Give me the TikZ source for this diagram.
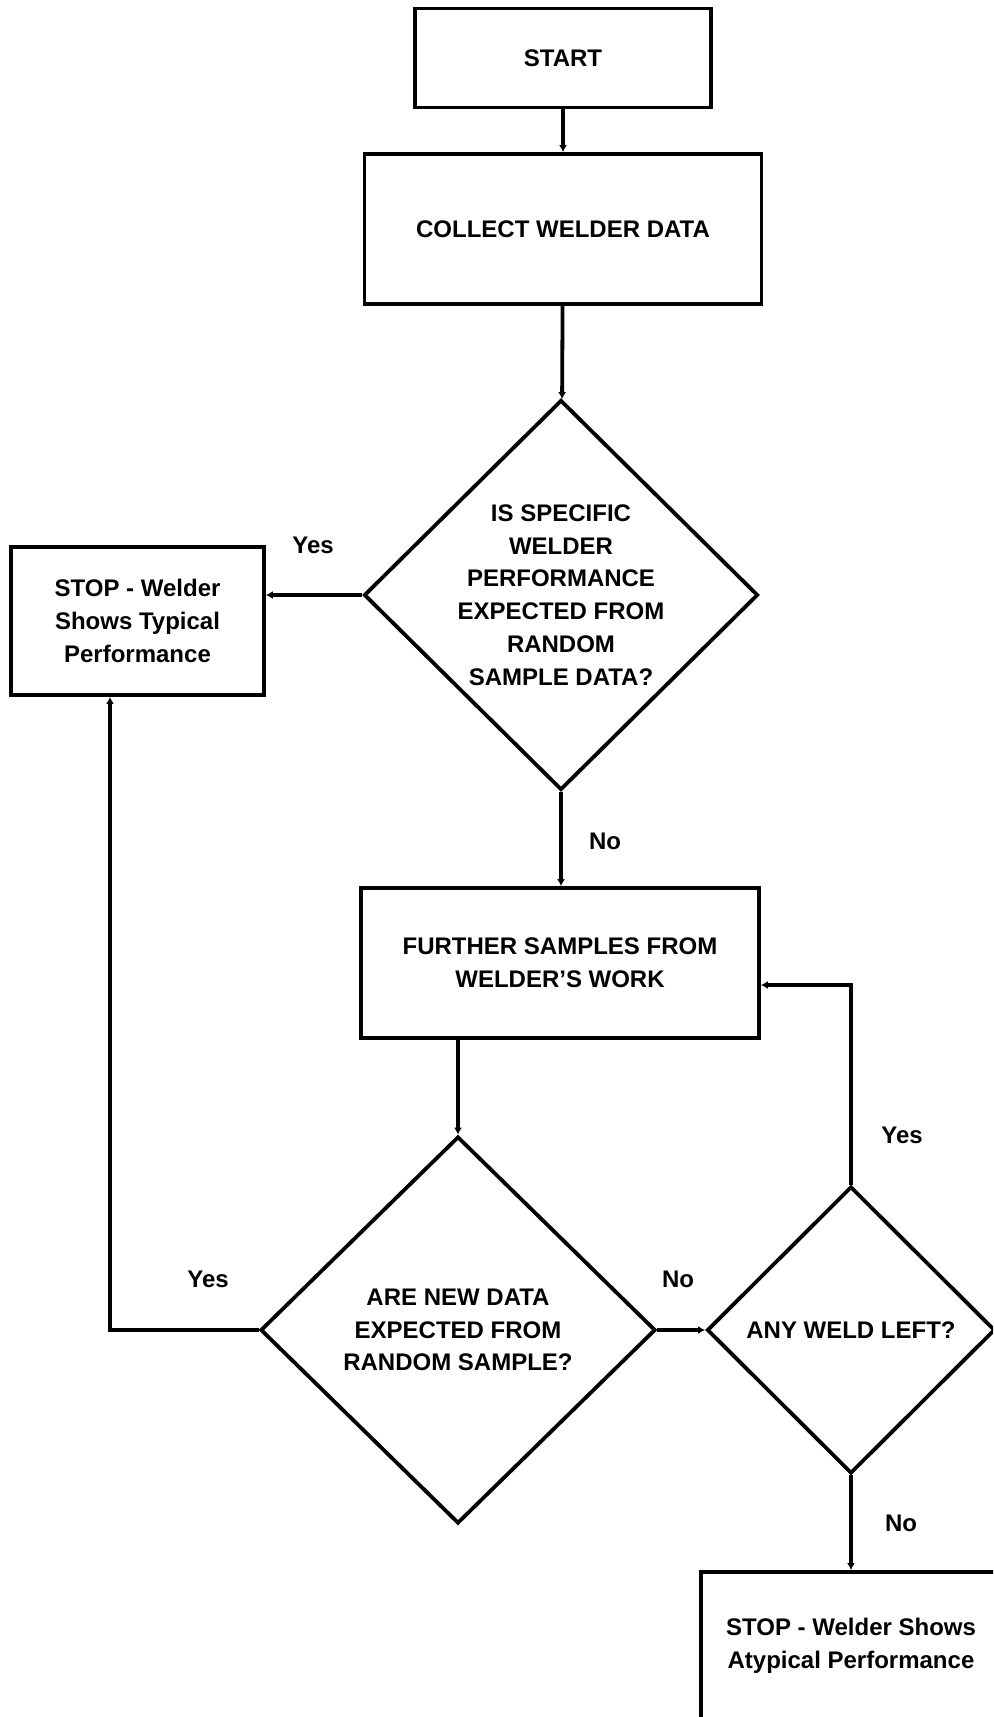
\documentclass[tikz,border=0pt]{standalone}
\usepackage{fontspec}
\setmainfont{Liberation Sans}
\usetikzlibrary{shapes.geometric, arrows.meta}

\newcommand{\flowfont}{\fontsize{12}{16.4}\selectfont\bfseries}
\tikzset{
    box/.style = {draw, line width=1.9pt, align=center, font=\flowfont},
    decision/.style = {draw, diamond, line width=1.9pt, inner sep=0pt},
    txt/.style = {align=center, font=\flowfont},
    flow/.style = {line width=1.9pt, -{Latex[length=3.5pt, width=4pt]}},
}

\begin{document}
\begin{tikzpicture}[x=0.5pt, y=-0.5pt]
    \useasboundingbox (0, 0) rectangle (993, 1717);
    \clip (0, 0) rectangle (993, 1717);

    % boxes
    \node[box, minimum width=148pt, minimum height=49.5pt] (start) at (563, 58) {START};
    \node[box, minimum width=198.5pt, minimum height=75pt] (collect) at (563, 229) {COLLECT WELDER DATA};
    \node[box, minimum width=126.5pt, minimum height=74pt] (typical) at (137.5, 621) {STOP - Welder\\Shows Typical\\Performance};
    \node[box, minimum width=199pt, minimum height=75pt] (further) at (560, 963) {FURTHER SAMPLES FROM\\WELDER'S WORK};
    \node[box, minimum width=150pt, minimum height=74pt] (atypical) at (851, 1646) {STOP - Welder Shows\\Atypical Performance};

    % decisions
    \node[decision, minimum width=197pt, minimum height=195pt] (q1) at (561, 595) {};
    \node[txt] (q1text) at (q1) {IS SPECIFIC\\WELDER\\PERFORMANCE\\EXPECTED FROM\\RANDOM\\SAMPLE DATA?};
    \node[decision, minimum width=197.5pt, minimum height=193.5pt] (q2) at (458, 1330) {};
    \node[txt] (q2text) at (q2) {ARE NEW DATA\\EXPECTED FROM\\RANDOM SAMPLE?};
    \node[decision, minimum width=144pt, minimum height=143.5pt] (q3) at (851, 1330) {};
    \node[txt] (q3text) at (q3) {ANY WELD LEFT?};

    \coordinate (yesturn) at (110, 1330);
    \coordinate (loopturn) at (851, 985);

    % connectors
    \draw[flow] (start) -- (collect);
    \draw[flow] (collect) -- (q1);
    \draw[flow] (q1.west) -- (q1.west -| typical.east);
    \draw[flow] (q1.south) -- (further.north -| q1.south);
    \draw[flow] (further.south -| q2.north) -- (q2.north);
    \draw[flow] (q2.west) -- (yesturn) -- (yesturn |- typical.south);
    \draw[flow] (q2.east) -- (q3.west);
    \draw[flow] (q3.north) -- (loopturn) -- (loopturn -| further.east);
    \draw[flow] (q3.south) -- (atypical.north);

    % labels
    \node[txt] (yes1) at (313, 545) {Yes};
    \node[txt] (no1) at (605, 841) {No};
    \node[txt] (yes2) at (208, 1279) {Yes};
    \node[txt] (no2) at (678, 1279) {No};
    \node[txt] (yes3) at (902, 1135) {Yes};
    \node[txt] (no3) at (901, 1523) {No};
\end{tikzpicture}
\end{document}
